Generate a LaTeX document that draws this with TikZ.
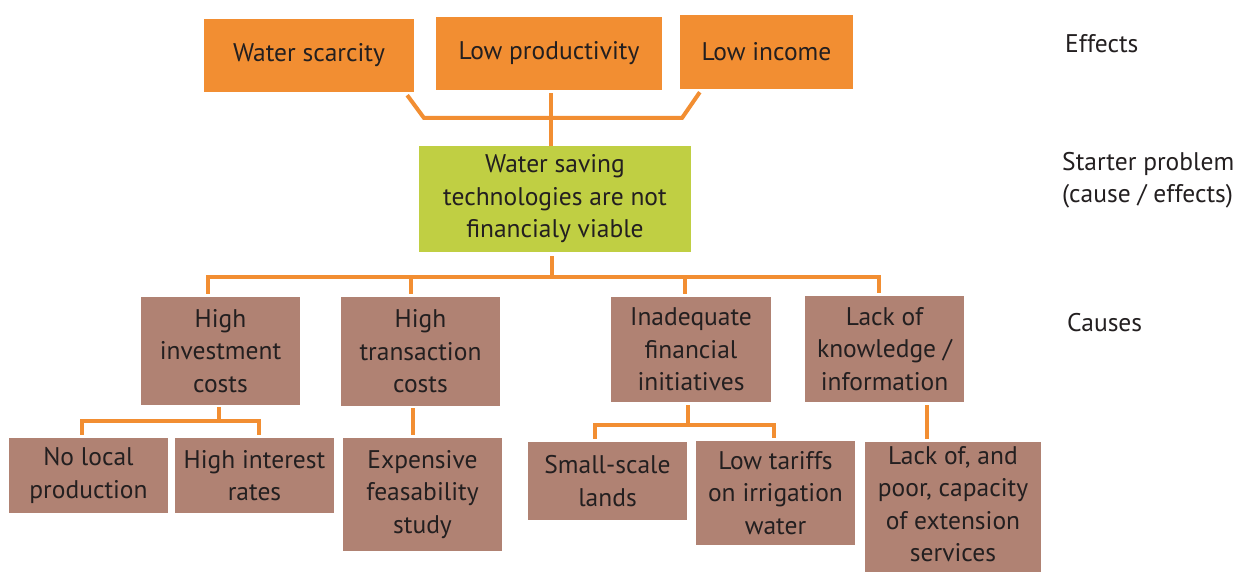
\documentclass[tikz,border=0pt]{standalone}
\usepackage{fontspec}
\setmainfont{PT Sans}
\definecolor{orng}{RGB}{242,142,50}
\definecolor{grn}{RGB}{192,207,67}
\definecolor{brwn}{RGB}{176,130,115}
\definecolor{txt}{RGB}{35,31,32}
\tikzset{
  box/.style={inner sep=0pt, align=center, text=txt,
    font=\fontsize{25.5}{32.5}\selectfont},
  effbox/.style={box, fill=orng},
  probbox/.style={box, fill=grn},
  causebox/.style={box, fill=brwn},
  conn/.style={draw=orng, line width=4pt, line join=miter},
  lbl/.style={anchor=west, inner sep=0pt, align=left, text=txt,
    font=\fontsize{25.5}{32.5}\selectfont}
}
\begin{document}
\begin{tikzpicture}[x=1pt,y=-1pt]
\useasboundingbox (0,0) rectangle (1244,572);
\clip (0,0) rectangle (1244,572);
\fill[white] (0,0) rectangle (1244,572);
% Effects
\node[effbox, minimum width=210pt, minimum height=73pt] (ws) at (309,55.5) {Water scarcity};
\node[effbox, minimum width=226pt, minimum height=73pt] (lp) at (549,53.5) {Low productivity};
\node[effbox, minimum width=173pt, minimum height=74pt] (li) at (766.5,52) {Low income};
% Problem
\node[probbox, minimum width=272pt, minimum height=106pt] (gr) at (555,199) {Water saving\\technologies are not\\financialy viable};
% Causes
\node[causebox, minimum width=159pt, minimum height=108pt] (hic) at (220.5,351) {High\\investment\\costs};
\node[causebox, minimum width=159pt, minimum height=109pt] (htc) at (420.5,351.5) {High\\transaction\\costs};
\node[causebox, minimum width=160pt, minimum height=105pt] (ifi) at (691,349.5) {Inadequate\\financial\\initiatives};
\node[causebox, minimum width=159pt, minimum height=106pt] (lk) at (884.5,349) {Lack of\\knowledge /\\information};
% Sub-causes
\node[causebox, minimum width=159pt, minimum height=75pt] (nlp) at (88.5,475.5) {No local\\production};
\node[causebox, minimum width=159pt, minimum height=75pt] (hir) at (254.5,475.5) {High interest\\rates};
\node[causebox, minimum width=159pt, minimum height=113pt] (efs) at (422.5,494.5) {Expensive\\feasability\\study};
\node[causebox, minimum width=159pt, minimum height=78pt] (ssl) at (607.5,481) {Small-scale\\lands};
\node[causebox, minimum width=159pt, minimum height=104pt] (lti) at (775.5,493) {Low tariffs\\on irrigation\\water};
\node[causebox, minimum width=176pt, minimum height=142pt, text depth=0pt] (lcap) at (953,513) {};
\node[box, anchor=north] (lcapt) at (953,446) {Lack of, and\\poor, capacity\\of extension\\services};
% Labels
\node[lbl] (leff) at (1065,44) {Effects};
\node[lbl] (lsp) at (1062,180) {Starter problem\\(cause / effects)};
\node[lbl] (lcau) at (1067,323) {Causes};
% Effect connectors
\coordinate (ebl) at (424,118);
\coordinate (ebr) at (682,118);
\draw[conn] ([xshift=-7pt,yshift=-3pt]ws.south east) -- (ebl) -- (ebr) -- ([xshift=20pt,yshift=-3pt]li.south west);
\draw[conn] ([xshift=2pt,yshift=-3pt]lp.south) -- ([xshift=2pt]lp.south |- gr.north);
% Cause connectors
\coordinate (cbar) at (552,277);
\draw[conn] ([xshift=-3pt,yshift=-4pt]gr.south) -- (cbar);
\draw[conn] ([xshift=-12.5pt,yshift=3pt]hic.north) -- ([xshift=-12.5pt]hic.north |- cbar) -- ([xshift=-5.5pt]lk.north |- cbar) -- ([xshift=-5.5pt,yshift=3pt]lk.north);
\draw[conn] ([xshift=-9.5pt,yshift=3pt]htc.north) -- ([xshift=-9.5pt]htc.north |- cbar);
\draw[conn] ([xshift=-6pt,yshift=3pt]ifi.north) -- ([xshift=-6pt]ifi.north |- cbar);
% Sub connectors
\coordinate (hbar) at (219,421);
\draw[conn] ([xshift=-1.5pt,yshift=-2pt]hic.south) -- (hbar);
\draw[conn] ([xshift=-6.5pt,yshift=3pt]nlp.north) -- ([xshift=-6.5pt]nlp.north |- hbar) -- ([xshift=4.5pt]hir.north |- hbar) -- ([xshift=4.5pt,yshift=3pt]hir.north);
\draw[conn] ([xshift=-7.5pt,yshift=-2pt]htc.south) -- ([xshift=-9.5pt,yshift=3pt]efs.north);
\coordinate (ibar) at (688,425);
\draw[conn] ([xshift=-3pt,yshift=-3pt]ifi.south) -- (ibar);
\draw[conn] ([xshift=-12.5pt,yshift=3pt]ssl.north) -- ([xshift=-12.5pt]ssl.north |- ibar) -- ([xshift=-1.5pt]lti.north |- ibar) -- ([xshift=-1.5pt,yshift=3pt]lti.north);
\draw[conn] ([xshift=42.5pt,yshift=-3pt]lk.south) -- ([xshift=-26pt,yshift=3pt]lcap.north);
\end{tikzpicture}
\end{document}
